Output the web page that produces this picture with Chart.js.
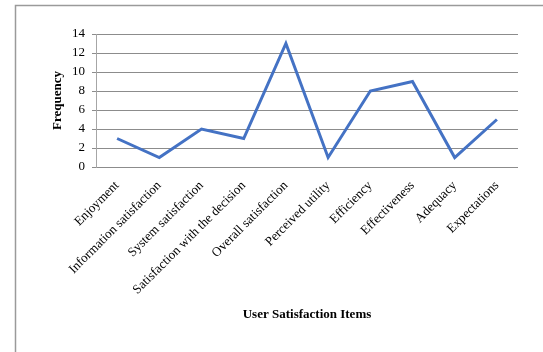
<!DOCTYPE html>
<html>
<head>
<meta charset="utf-8">
<script src="https://cdn.jsdelivr.net/npm/chart.js@4/dist/chart.umd.min.js"></script>
<style>
  html, body { margin: 0; padding: 0; background: #fff; }
  #wrap { position: relative; width: 543px; height: 352px; }
</style>
</head>
<body>
<div id="wrap"><canvas id="c" width="543" height="352"></canvas></div>
<script>
const categories = ["Enjoyment", "Information satisfaction", "System satisfaction",
  "Satisfaction with the decision", "Overall satisfaction", "Perceived utility",
  "Efficiency", "Effectiveness", "Adequacy", "Expectations"];
const frequency = [3, 1, 4, 3, 13, 1, 8, 9, 1, 5];
const yTicks = [0, 2, 4, 6, 8, 10, 12, 14];
const yTitle = "Frequency";
const xTitle = "User Satisfaction Items";

const framePlugin = {
  id: 'frame',
  beforeDraw(chart) {
    const ctx = chart.ctx;
    ctx.save();
    ctx.strokeStyle = '#9a9a9a';
    ctx.lineWidth = 1.5;
    ctx.beginPath();
    ctx.moveTo(15.5, 400);
    ctx.lineTo(15.5, 5.5);
    ctx.lineTo(600, 5.5);
    ctx.stroke();
    ctx.restore();
  }
};

const serif = '"Liberation Serif", "Times New Roman", serif';

new Chart(document.getElementById('c'), {
  type: 'line',
  data: {
    labels: categories,
    datasets: [{
      data: frequency,
      borderColor: '#4472C4',
      borderWidth: 3,
      pointRadius: 0,
      tension: 0,
      fill: false
    }]
  },
  options: {
    responsive: false,
    animation: false,
    layout: { padding: { left: 46, right: 25, top: 34, bottom: 26 } },
    plugins: { legend: { display: false }, tooltip: { enabled: false } },
    scales: {
      x: {
        offset: true,
        grid: { display: false, drawTicks: false },
        border: { display: false },
        ticks: {
          color: '#000',
          font: { family: serif, size: 13 },
          maxRotation: 45, minRotation: 45,
          autoSkip: false,
          padding: 11
        },
        title: {
          display: true, text: xTitle, color: '#000',
          font: { family: serif, size: 13, weight: 'bold' }
        },
        afterFit(scale) { scale.height = 159; }
      },
      y: {
        min: 0, max: 14,
        afterBuildTicks(scale) { scale.ticks = yTicks.map(v => ({ value: v })); },
        grid: { color: '#8c8c8c', lineWidth: 1, tickLength: 4 },
        border: { display: true, color: '#a6a6a6', width: 1 },
        ticks: {
          color: '#000',
          font: { family: serif, size: 13 },
          padding: 7
        },
        title: {
          display: true, text: yTitle, color: '#000',
          font: { family: serif, size: 13, weight: 'bold' }
        },
        afterFit(scale) { scale.width = 50; }
      }
    }
  },
  plugins: [framePlugin]
});
</script>
</body>
</html>
